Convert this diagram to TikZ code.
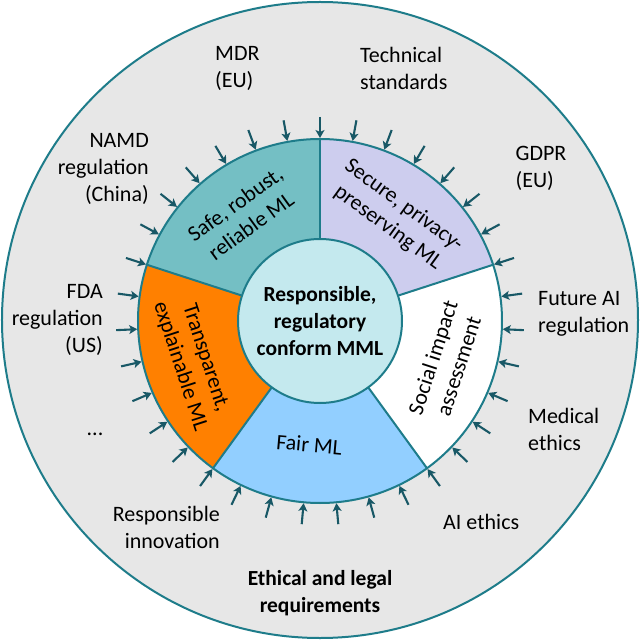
\documentclass[tikz,border=0pt]{standalone}
\usepackage{fontspec}
\setmainfont{Carlito}
\usetikzlibrary{arrows.meta}
\definecolor{bgray}{RGB}{231,231,231}
\definecolor{bord}{RGB}{30,124,138}
\definecolor{arr}{RGB}{24,88,102}
\definecolor{safec}{RGB}{116,191,196}
\definecolor{secc}{RGB}{205,205,238}
\definecolor{fairc}{RGB}{146,207,255}
\definecolor{oranc}{RGB}{255,128,0}
\definecolor{centc}{RGB}{196,233,238}
\tikzset{
  lbl/.style={inner sep=0pt, font=\fontsize{22}{27}\selectfont},
  seg/.style={draw=bord, line width=2pt},
  inarrow/.style={draw=arr, line width=2.1pt, -{Stealth[length=8pt,width=9pt,inset=2pt]}},
}
\begin{document}
\begin{tikzpicture}[x=1pt,y=1pt]
\useasboundingbox (-320,-321) rectangle (320,321);
% outer circle
\node[circle, minimum size=636pt, inner sep=0pt, fill=bgray, draw=bord, line width=2pt] (outer) at (0,1) {};
% ring segments
\def\Ro{182}\def\Ri{82}
\fill[safec] (90:\Ro) arc[start angle=90,end angle=162,radius=\Ro] -- (162:\Ri) arc[start angle=162,end angle=90,radius=\Ri] -- cycle;
\fill[oranc] (162:\Ro) arc[start angle=162,end angle=234,radius=\Ro] -- (234:\Ri) arc[start angle=234,end angle=162,radius=\Ri] -- cycle;
\fill[fairc] (234:\Ro) arc[start angle=234,end angle=306,radius=\Ro] -- (306:\Ri) arc[start angle=306,end angle=234,radius=\Ri] -- cycle;
\fill[white] (306:\Ro) arc[start angle=306,end angle=378,radius=\Ro] -- (378:\Ri) arc[start angle=378,end angle=306,radius=\Ri] -- cycle;
\fill[secc] (18:\Ro) arc[start angle=18,end angle=90,radius=\Ro] -- (90:\Ri) arc[start angle=90,end angle=18,radius=\Ri] -- cycle;
\draw[seg] (0,0) circle[radius=\Ro];
\foreach \a in {18,90,162,234,306}{\draw[seg] (\a:\Ri) -- (\a:\Ro);}
% centre
\node[circle, minimum size=164pt, inner sep=0pt, fill=centc, draw=bord, line width=2pt, align=center,
  font=\fontsize{21.5}{27}\selectfont\bfseries] (centre) at (0,0) {Responsible,\\regulatory\\conform MML};
% segment labels
\node[lbl, align=center, rotate=36] (safe) at (126:131) {Safe, robust,\\reliable ML};
\node[lbl, align=center, rotate=-36] (secure) at (54:129) {Secure, privacy-\\preserving ML};
\node[lbl, align=center, rotate=-72] (transp) at (198:134) {Transparent,\\explainable ML};
\node[lbl, align=center, rotate=72] (social) at (342:132) {Social impact\\assessment};
\node[lbl, align=center, rotate=-5] (fair) at (265:124) {Fair ML};
% arrows
\foreach \k in {0,...,34}{
  \pgfmathsetmacro\ang{90-\k*360/35}
  \coordinate (s\k) at (\ang:204);
  \coordinate (t\k) at (\ang:183);
  \draw[inarrow] (s\k) -- (t\k);
}
% outer labels
\node[lbl, align=left, anchor=west] (mdr) at (-105,252.5) {MDR\\(EU)};
\node[lbl, align=left, anchor=west] (tech) at (40,252.5) {Technical\\standards};
\node[lbl, align=right, anchor=east] (namd) at (-171,152) {NAMD\\regulation\\(China)};
\node[lbl, align=left, anchor=west] (gdpr) at (195.5,152.5) {GDPR\\(EU)};
\node[lbl, align=right, anchor=east] (fda) at (-217,1) {FDA\\regulation\\(US)};
\node[lbl, align=left, anchor=west] (future) at (218,7.5) {Future AI\\regulation};
\node[lbl, align=left, anchor=west] (medical) at (208,-108.5) {Medical\\ethics};
\node[lbl] (dots) at (-225,-113) {...};
\node[lbl, align=right, anchor=east] (respinn) at (-100,-206.5) {Responsible\\innovation};
\node[lbl, align=left, anchor=west] (aieth) at (123,-201) {AI ethics};
\node[lbl, align=center, font=\fontsize{21.5}{27}\selectfont\bfseries] (ethical) at (0,-272) {Ethical and legal\\requirements};
\end{tikzpicture}
\end{document}
